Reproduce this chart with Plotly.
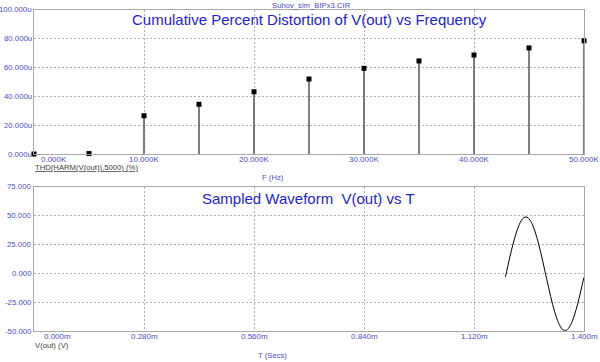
import plotly.graph_objects as go

# ---- data: THD vs frequency (values in micro-percent units, "u") ----
freq_hz = [0, 5000, 10000, 15000, 20000, 25000, 30000, 35000, 40000, 45000, 50000]
thd_u = [0.0, 0.3, 26.5, 34.4, 43.1, 51.9, 59.3, 64.4, 68.5, 73.4, 78.4]

freq_tickvals = [0, 10000, 20000, 30000, 40000, 50000]
freq_ticktext = ["0.000K", "10.000K", "20.000K", "30.000K", "40.000K", "50.000K"]
thd_tickvals = [0, 20, 40, 60, 80, 100]
thd_ticktext = ["0.000u", "20.000u", "40.000u", "60.000u", "80.000u", "100.000u"]

# ---- data: sampled waveform (time in ms, volts) ----
time_ms = [1.200, 1.205, 1.210, 1.215, 1.220, 1.225, 1.230, 1.235, 1.240, 1.245,
           1.250, 1.255, 1.260, 1.265, 1.270, 1.275, 1.280, 1.285, 1.290, 1.295,
           1.300, 1.305, 1.310, 1.315, 1.320, 1.325, 1.330, 1.335, 1.340, 1.345,
           1.350, 1.355, 1.360, 1.365, 1.370, 1.375, 1.380, 1.385, 1.390, 1.395,
           1.400]
vout_v = [-2.9, 4.7, 12.3, 19.6, 26.4, 32.5, 37.8, 42.2, 45.6, 47.9,
          48.9, 48.8, 47.4, 44.9, 41.3, 36.7, 31.2, 24.9, 18.0, 10.6,
          2.9, -4.8, -12.5, -19.9, -26.8, -33.0, -38.3, -42.8, -46.2, -48.5,
          -49.4, -49.3, -47.9, -45.3, -41.7, -37.0, -31.4, -25.0, -18.0, -10.6,
          -3.5]

time_tickvals = [0, 0.28, 0.56, 0.84, 1.12, 1.40]
time_ticktext = ["0.000m", "0.280m", "0.560m", "0.840m", "1.120m", "1.400m"]
v_tickvals = [-50, -25, 0, 25, 50, 75]
v_ticktext = ["-50.000", "-25.000", "0.000", "25.000", "50.000", "75.000"]

FONT = "Arial, Liberation Sans, sans-serif"
TS = 8      # x tick label size
YS = 7.8    # y tick label size
LS = 7.7    # small label size
TICKCOL = "#4c4cc8"
TITLECOL = "#2424c8"
GRIDCOL = "#b0b0b0"
BORDER = "#a8a8a8"

fig = go.Figure()

fig.add_trace(go.Scatter(
    x=freq_hz, y=thd_u, mode="markers",
    marker=dict(symbol="square", size=5, color="black"),
    error_y=dict(type="data", symmetric=False, array=[0] * len(thd_u),
                 arrayminus=thd_u, width=0, thickness=1.5, color="#555555"),
    xaxis="x", yaxis="y", showlegend=False, cliponaxis=False,
))

fig.add_trace(go.Scatter(
    x=time_ms, y=vout_v, mode="lines",
    line=dict(color="black", width=1, shape="spline"),
    xaxis="x2", yaxis="y2", showlegend=False,
))

W, H = 600, 362
left, right = 34, 584
t1, b1 = 9.5, 154
t2, b2 = 187, 331

def py(px):
    return 1 - px / H

axis_common = dict(showline=True, mirror=True, linecolor=BORDER, linewidth=1,
                   showgrid=True, gridcolor=GRIDCOL, griddash="2px,2px", gridwidth=1,
                   zeroline=False, ticks="", fixedrange=True, automargin=False,
                   showticklabels=False)

fig.update_layout(
    width=W, height=H, autosize=False,
    margin=dict(l=0, r=0, t=0, b=0, pad=0, autoexpand=False),
    paper_bgcolor="white", plot_bgcolor="white",
    font=dict(family=FONT, size=TS, color=TICKCOL),
    xaxis=dict(domain=[left / W, right / W], range=[0, 50000],
               tickvals=freq_tickvals, anchor="y", **axis_common),
    yaxis=dict(domain=[py(b1), py(t1)], range=[0, 100],
               tickvals=thd_tickvals, anchor="x", **axis_common),
    xaxis2=dict(domain=[left / W, right / W], range=[0, 1.4],
                tickvals=time_tickvals, anchor="y2", **axis_common),
    yaxis2=dict(domain=[py(b2), py(t2)], range=[-50, 75],
                tickvals=v_tickvals, anchor="x2", **axis_common),
)

ann = []
# tick labels (built from the tick arrays)
for i, (v, t) in enumerate(zip(freq_tickvals, freq_ticktext)):
    ann.append(dict(x=v, y=0, xref="x", yref="y", text=t, showarrow=False,
                    xanchor="left" if i == 0 else "center", yanchor="top",
                    xshift=5 if i == 0 else 0, yshift=1,
                    font=dict(size=TS, color=TICKCOL, family=FONT)))
for i, (v, t) in enumerate(zip(time_tickvals, time_ticktext)):
    ann.append(dict(x=v, y=-50, xref="x2", yref="y2", text=t, showarrow=False,
                    xanchor="left" if i == 0 else "center", yanchor="top",
                    xshift=8 if i == 0 else 0, yshift=1,
                    font=dict(size=TS, color=TICKCOL, family=FONT)))
for v, t in zip(thd_tickvals, thd_ticktext):
    ann.append(dict(x=left / W, y=v, xref="paper", yref="y", text=t, showarrow=False,
                    xanchor="right", yanchor="middle", xshift=-1, borderpad=0,
                    font=dict(size=YS, color=TICKCOL, family=FONT)))
for v, t in zip(v_tickvals, v_ticktext):
    ann.append(dict(x=left / W, y=v, xref="paper", yref="y2", text=t, showarrow=False,
                    xanchor="right", yanchor="middle", xshift=-1, borderpad=0,
                    font=dict(size=YS, color=TICKCOL, family=FONT)))

# titles and labels
ann += [
    dict(x=311 / W, y=py(5), xref="paper", yref="paper", text="Suhov_sim_BIPx3.CIR",
         showarrow=False, xanchor="center", yanchor="middle",
         font=dict(size=LS, color=TICKCOL, family=FONT)),
    dict(x=309 / W, y=py(20), xref="paper", yref="paper",
         text="Cumulative Percent Distortion of V(out) vs Frequency",
         showarrow=False, xanchor="center", yanchor="middle",
         font=dict(size=15, color=TITLECOL, family=FONT)),
    dict(x=33 / W, y=py(167), xref="paper", yref="paper",
         text="<u>THD(HARM(V(out)),5000) (%)</u>",
         showarrow=False, xanchor="left", yanchor="middle",
         font=dict(size=LS, color="#404040", family=FONT)),
    dict(x=273 / W, y=py(177.5), xref="paper", yref="paper", text="F (Hz)",
         showarrow=False, xanchor="center", yanchor="middle",
         font=dict(size=LS, color=TICKCOL, family=FONT)),
    dict(x=308 / W, y=py(198), xref="paper", yref="paper",
         text="Sampled Waveform  V(out) vs T",
         showarrow=False, xanchor="center", yanchor="middle",
         font=dict(size=15, color=TITLECOL, family=FONT)),
    dict(x=33 / W, y=py(345), xref="paper", yref="paper", text="V(out) (V)",
         showarrow=False, xanchor="left", yanchor="middle",
         font=dict(size=LS, color="#404040", family=FONT)),
    dict(x=272 / W, y=py(355), xref="paper", yref="paper", text="T (Secs)",
         showarrow=False, xanchor="center", yanchor="middle",
         font=dict(size=LS, color=TICKCOL, family=FONT)),
]
fig.update_layout(annotations=ann)

fig.write_html("out.html", config={"displayModeBar": False},
               post_script="document.body.style.margin='0';document.body.style.padding='0';")
